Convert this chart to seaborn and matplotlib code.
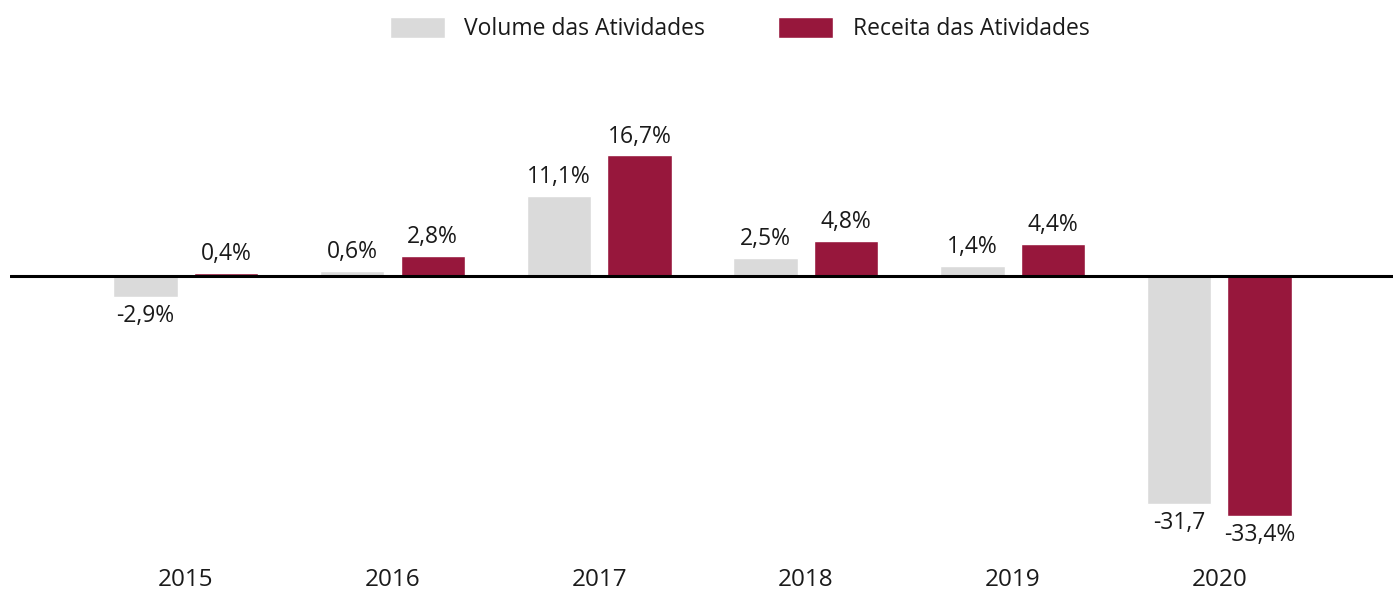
import seaborn as sns
import matplotlib.pyplot as plt
import pandas as pd

anos = ["2015", "2016", "2017", "2018", "2019", "2020"]
volume = [-2.9, 0.6, 11.1, 2.5, 1.4, -31.7]
receita = [0.4, 2.8, 16.7, 4.8, 4.4, -33.4]
rotulos_volume = ["-2,9%", "0,6%", "11,1%", "2,5%", "1,4%", "-31,7"]
rotulos_receita = ["0,4%", "2,8%", "16,7%", "4,8%", "4,4%", "-33,4%"]
series = ["Volume das Atividades", "Receita das Atividades"]
cores = ["#dadada", "#97173c"]

df = pd.DataFrame({
    "ano": anos * 2,
    "valor": volume + receita,
    "serie": [series[0]] * len(anos) + [series[1]] * len(anos),
})

sns.set_style("white")
plt.rcParams["font.family"] = ["Open Sans", "DejaVu Sans"]

fig = plt.figure(figsize=(13.93, 5.92), dpi=100)
ax = fig.add_axes([10 / 1393, 32 / 592, 1383 / 1393, 0.845])

sns.barplot(data=df, x="ano", y="valor", hue="serie", palette=cores,
            width=0.78, gap=0.2, ax=ax, saturation=1, legend=True)

# rotulos acima/abaixo das barras
for cont, rot in zip(ax.containers, [rotulos_volume, rotulos_receita]):
    ax.bar_label(cont, labels=rot, padding=5, fontsize=16.5, color="#1a1a1a")

ax.axhline(0, color="black", lw=2.2, zorder=5)
ax.set_xlim(-0.85, 5.84)
ax.set_ylim(-39.5, 30.0)
ax.set_xlabel("")
ax.set_ylabel("")
ax.set_yticks([])
ax.tick_params(axis="x", length=0, labelsize=17.5, pad=6, labelcolor="#1a1a1a")
sns.despine(ax=ax, left=True, bottom=True)

ax.legend(loc="center", bbox_to_anchor=(0.531, 0.951), bbox_transform=fig.transFigure,
          ncol=2, frameon=False, fontsize=16.5, handlelength=2.4, handleheight=1.05,
          handletextpad=0.85, columnspacing=3.2, labelcolor="#1a1a1a")

fig.savefig("out.png", dpi=100)
